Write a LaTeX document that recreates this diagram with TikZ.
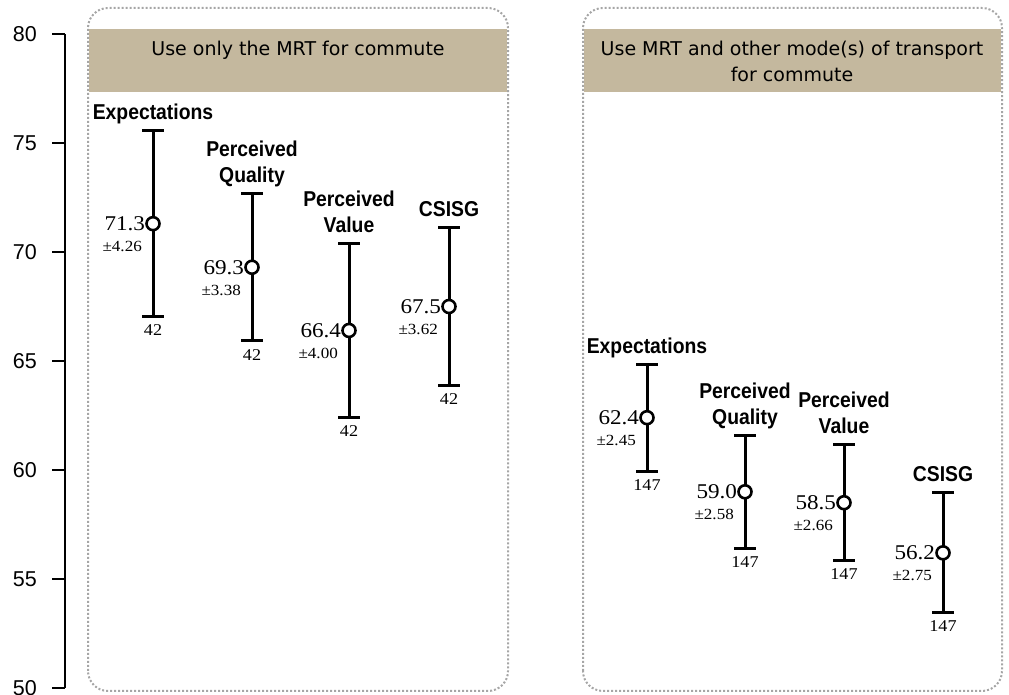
\documentclass[tikz,border=0pt]{standalone}
\usepackage{fontspec}
\setmainfont[FakeStretch=1.1]{Liberation Serif}
\setsansfont{Liberation Sans}
\newfontfamily\headfont{DejaVu Sans}
\newfontfamily\catfont[FakeStretch=0.9]{Liberation Sans Bold}
\usetikzlibrary{calc,positioning}
\definecolor{bandtan}{RGB}{196,184,158}
\definecolor{dotgray}{RGB}{166,166,166}

\begin{document}
\begin{tikzpicture}[x=1pt, y=1pt,
    panel/.style = {draw=dotgray, line width=2pt, dash pattern=on 2pt off 2pt, rounded corners=20pt},
    band/.style = {fill=bandtan, draw=none},
    head/.style = {anchor=north, inner sep=0pt, align=center, font=\headfont\fontsize{19}{26}\selectfont},
    errbar/.style = {line width=3pt},
    mean/.style = {circle, draw, line width=2.6pt, fill=white, minimum size=13pt, inner sep=0pt},
    meanlabel/.style = {inner sep=0pt, font=\fontsize{21}{24}\selectfont},
    errlabel/.style = {anchor=east, inner sep=0pt, font=\fontsize{15.5}{18}\selectfont},
    nlabel/.style = {anchor=north, inner sep=0pt, font=\fontsize{16.5}{19}\selectfont},
    catlabel/.style = {anchor=south, inner sep=0pt, align=center, font=\catfont\fontsize{21.5}{26}\selectfont, execute at end node=\strut},
    ticklabel/.style = {anchor=east, inner sep=0pt, font=\sffamily\fontsize{21.5}{23}\selectfont}]
\useasboundingbox (0,0) rectangle (1009,695);

% panels
\fill[band] (89,603) rectangle (507,666);
\fill[band] (584,603) rectangle (1001,666);
\draw[panel] (88,4) rectangle (508,687);
\draw[panel] (583,4) rectangle (1002,687);
\node[head] (h1) at (298,654) {Use only the MRT for commute};
\node[head] (h2) at (792,654) {Use MRT and other mode(s) of transport\\for commute};

% axis
\draw[line width=1.3pt] (65,7) -- (65,661);
\foreach \v in {50,55,...,80} {
    \pgfmathsetmacro\yy{21.8*\v-1083}
    \draw[line width=1.3pt] (52,\yy) -- (65,\yy);
    \node[ticklabel] (t\v) at (37,\yy) {\v};
}

% error bars
\foreach \x/\v/\e/\n/\lab [count=\i] in {
    153/71.3/4.26/42/Expectations,
    252/69.3/3.38/42/{Perceived\\Quality},
    349/66.4/4.00/42/{Perceived\\Value},
    449/67.5/3.62/42/CSISG,
    647/62.4/2.45/147/Expectations,
    745/59.0/2.58/147/{Perceived\\Quality},
    844/58.5/2.66/147/{Perceived\\Value},
    943/56.2/2.75/147/CSISG} {
    \pgfmathsetmacro\yc{21.8*\v-1083}
    \pgfmathsetmacro\yt{21.8*(\v+\e)-1083}
    \pgfmathsetmacro\yb{21.8*(\v-\e)-1083}
    \draw[errbar] (\x-11,\yt) -- (\x+11,\yt) (\x,\yt) -- (\x,\yb) (\x-11,\yb) -- (\x+11,\yb);
    \node[mean] (m\i) at (\x,\yc) {};
    \node[meanlabel, left=0pt of m\i] (v\i) {\v};
    \node[errlabel] (e\i) at (\x-11,\yc-23) {±\e};
    \node[nlabel] (n\i) at (\x,\yb-8) {\n};
    \node[catlabel] (c\i) at (\x,\yt+3) {\lab};
}
\end{tikzpicture}
\end{document}
